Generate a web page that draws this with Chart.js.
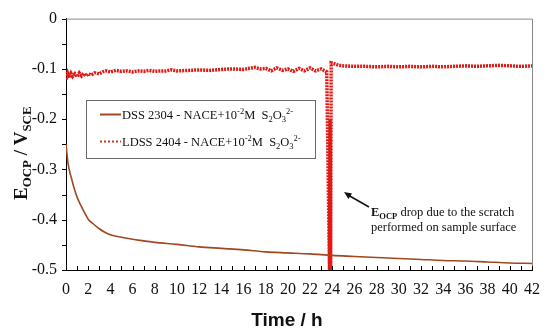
<!DOCTYPE html>
<html>
<head>
<meta charset="utf-8">
<script src="https://cdn.jsdelivr.net/npm/chart.js@4"></script>
<style>
  html, body { margin: 0; padding: 0; background: #fff; }
</style>
</head>
<body>
<canvas id="ocpCanvas" width="550" height="332"></canvas>
<script>
// time in hours, potential in V vs SCE
var tDss = [0, 0.1, 0.2, 0.35, 0.5, 0.7, 1.0, 1.3, 1.6, 2.0, 2.5, 3.0, 3.5, 4.0, 5.0, 6.0, 7.0, 8.0, 10, 12, 14, 16, 18, 20, 22, 24, 26, 28, 30, 32, 34, 36, 38, 40, 42];
var vDss = [-0.249, -0.272, -0.290, -0.306, -0.318, -0.335, -0.355, -0.370, -0.383, -0.399, -0.409, -0.418, -0.425, -0.430, -0.435, -0.439, -0.442, -0.445, -0.449, -0.454, -0.457, -0.460, -0.464, -0.466, -0.468, -0.471, -0.473, -0.475, -0.477, -0.479, -0.481, -0.482, -0.484, -0.486, -0.487];

var tLdss = [0, 0.15, 0.3, 0.45, 0.6, 0.8, 1.0, 1.2, 1.4, 1.6, 1.8, 2.0, 2.3, 2.6, 3.0, 3.3, 3.6, 4.0, 4.5, 5, 5.5, 6, 6.5, 7, 7.5, 8, 8.5, 9, 9.5, 10, 11, 12, 13, 14, 15, 16, 17, 17.5, 18, 18.5, 19, 19.5, 20, 20.5, 21, 21.5, 22, 22.5, 23, 23.5, 23.75, 23.8, 23.85, 23.9, 24.2, 24.6, 25, 26, 27, 28, 29, 30, 31, 32, 33, 34, 35, 36, 37, 38, 39, 40, 41, 42];
var vLdss = [-0.121, -0.109, -0.118, -0.109, -0.115, -0.110, -0.116, -0.108, -0.114, -0.109, -0.114, -0.110, -0.112, -0.108, -0.110, -0.106, -0.104, -0.106, -0.103, -0.105, -0.104, -0.106, -0.104, -0.105, -0.103, -0.105, -0.104, -0.104, -0.102, -0.104, -0.103, -0.102, -0.103, -0.101, -0.100, -0.101, -0.097, -0.100, -0.099, -0.104, -0.098, -0.103, -0.100, -0.105, -0.099, -0.104, -0.098, -0.104, -0.100, -0.106, -0.500, -0.200, -0.500, -0.088, -0.090, -0.093, -0.094, -0.095, -0.095, -0.096, -0.095, -0.096, -0.095, -0.096, -0.095, -0.096, -0.095, -0.094, -0.095, -0.094, -0.093, -0.094, -0.095, -0.094];

var seriesNames = ['DSS 2304 - NACE+10', 'LDSS 2404 - NACE+10'];
var xTitle = 'Time / h';
var noteLines = [' drop due to the scratch', 'performed on sample surface'];

var brown = 'rgb(160,72,32)';
var red = 'rgb(226,26,22)';
var serif = '"Liberation Serif", "Times New Roman", serif';

function pts(ts, vs) {
    return ts.map(function (t, i) { return { x: t, y: vs[i] }; });
}

// draws runs of text with sub/superscripts, returns end x
function richText(ctx, x, y, parts, size, bold) {
    parts.forEach(function (p) {
        var s = p[1] ? size * 0.68 : size;
        var dy = p[1] === 'sup' ? -size * 0.38 : (p[1] === 'sub' ? size * 0.22 : 0);
        ctx.font = (bold ? 'bold ' : '') + s + 'px ' + serif;
        ctx.fillText(p[0], x, y + dy);
        x += ctx.measureText(p[0]).width;
    });
    return x;
}

var decor = {
    id: 'decor',
    afterDraw: function (chart) {
        var ctx = chart.ctx, a = chart.chartArea;
        var xs = chart.scales.x, ys = chart.scales.y;
        ctx.save();
        // grey top / right frame
        ctx.strokeStyle = '#8a8a8a';
        ctx.lineWidth = 1;
        ctx.beginPath();
        ctx.moveTo(a.left, a.top + 0.5);
        ctx.lineTo(a.right + 0.5, a.top + 0.5);
        ctx.lineTo(a.right + 0.5, a.bottom);
        ctx.stroke();
        // ticks
        ctx.strokeStyle = '#000';
        ctx.beginPath();
        for (var h = 0; h <= 42; h++) {
            var px = Math.round(xs.getPixelForValue(h)) + 0.5;
            ctx.moveTo(px, a.bottom);
            ctx.lineTo(px, a.bottom - 4);
        }
        for (var k = 0; k <= 10; k++) {
            var py = Math.round(ys.getPixelForValue(-k * 0.05)) + 0.5;
            ctx.moveTo(a.left, py);
            ctx.lineTo(a.left - 4, py);
        }
        ctx.stroke();

        // legend box
        ctx.strokeStyle = '#6a6a6a';
        ctx.strokeRect(86.5, 100.5, 229, 58);
        ctx.lineWidth = 2;
        ctx.strokeStyle = brown;
        ctx.beginPath();
        ctx.moveTo(100, 114.5);
        ctx.lineTo(121, 114.5);
        ctx.stroke();
        ctx.setLineDash([2, 2]);
        ctx.strokeStyle = 'rgb(200,60,30)';
        ctx.beginPath();
        ctx.moveTo(100, 141.5);
        ctx.lineTo(121, 141.5);
        ctx.stroke();
        ctx.setLineDash([]);
        ctx.fillStyle = '#111';
        ctx.textBaseline = 'alphabetic';
        ctx.textAlign = 'left';
        [119, 146].forEach(function (by, i) {
            richText(ctx, 122, by, [[seriesNames[i]], ['-2', 'sup'], ['M  S'], ['2', 'sub'], ['O'], ['3', 'sub'], ['2-', 'sup']], 12.5);
        });

        // annotation arrow
        ctx.strokeStyle = '#111';
        ctx.lineWidth = 1.5;
        ctx.beginPath();
        ctx.moveTo(369, 207);
        ctx.lineTo(348, 195);
        ctx.stroke();
        ctx.fillStyle = '#111';
        ctx.beginPath();
        ctx.moveTo(344, 192);
        ctx.lineTo(352, 193.5);
        ctx.lineTo(348.5, 199);
        ctx.closePath();
        ctx.fill();
        var ex = richText(ctx, 371, 216, [['E'], ['OCP', 'sub']], 12.5, true);
        richText(ctx, ex, 216, [[noteLines[0]]], 12.5);
        richText(ctx, 371, 231, [[noteLines[1]]], 12.5);

        // axis titles
        ctx.font = 'bold 19px "Liberation Sans", Arial, sans-serif';
        ctx.textAlign = 'center';
        ctx.fillText(xTitle, 287, 326);
        ctx.textAlign = 'left';
        ctx.translate(27, 200);
        ctx.rotate(-Math.PI / 2);
        richText(ctx, 0, 0, [['E'], ['OCP', 'sub'], [' / V'], ['SCE', 'sub']], 19, true);
        ctx.restore();
    }
};

new Chart(document.getElementById('ocpCanvas'), {
    type: 'line',
    data: {
        datasets: [{
            label: seriesNames[0],
            data: pts(tDss, vDss),
            borderColor: brown,
            borderWidth: 1.6,
            pointRadius: 0,
            cubicInterpolationMode: 'monotone'
        }, {
            label: seriesNames[1],
            data: pts(tLdss, vLdss),
            borderColor: red,
            borderWidth: 3.5,
            borderDash: [2, 1],
            pointRadius: 0,
            tension: 0
        }]
    },
    plugins: [decor],
    options: {
        responsive: false,
        animation: false,
        devicePixelRatio: 1,
        layout: { padding: { top: 11, right: 12, left: 0, bottom: 0 } },
        plugins: { legend: { display: false }, tooltip: { enabled: false } },
        scales: {
            x: {
                type: 'linear', min: 0, max: 42,
                grid: { display: false, drawTicks: false },
                border: { color: '#000', width: 1 },
                ticks: { stepSize: 2, padding: 10, color: '#111', font: { family: serif, size: 16 }, maxRotation: 0 },
                afterFit: function (s) { s.height = 62; }
            },
            y: {
                min: -0.5, max: 0,
                grid: { display: false, drawTicks: false },
                border: { color: '#000', width: 1 },
                ticks: {
                    stepSize: 0.1, padding: 9, color: '#111', font: { family: serif, size: 16 },
                    callback: function (v) { var r = Math.round(v * 10) / 10; return r === 0 ? '0' : r.toFixed(1); }
                },
                afterFit: function (s) { s.width = 66; }
            }
        }
    }
});
</script>
</body>
</html>
